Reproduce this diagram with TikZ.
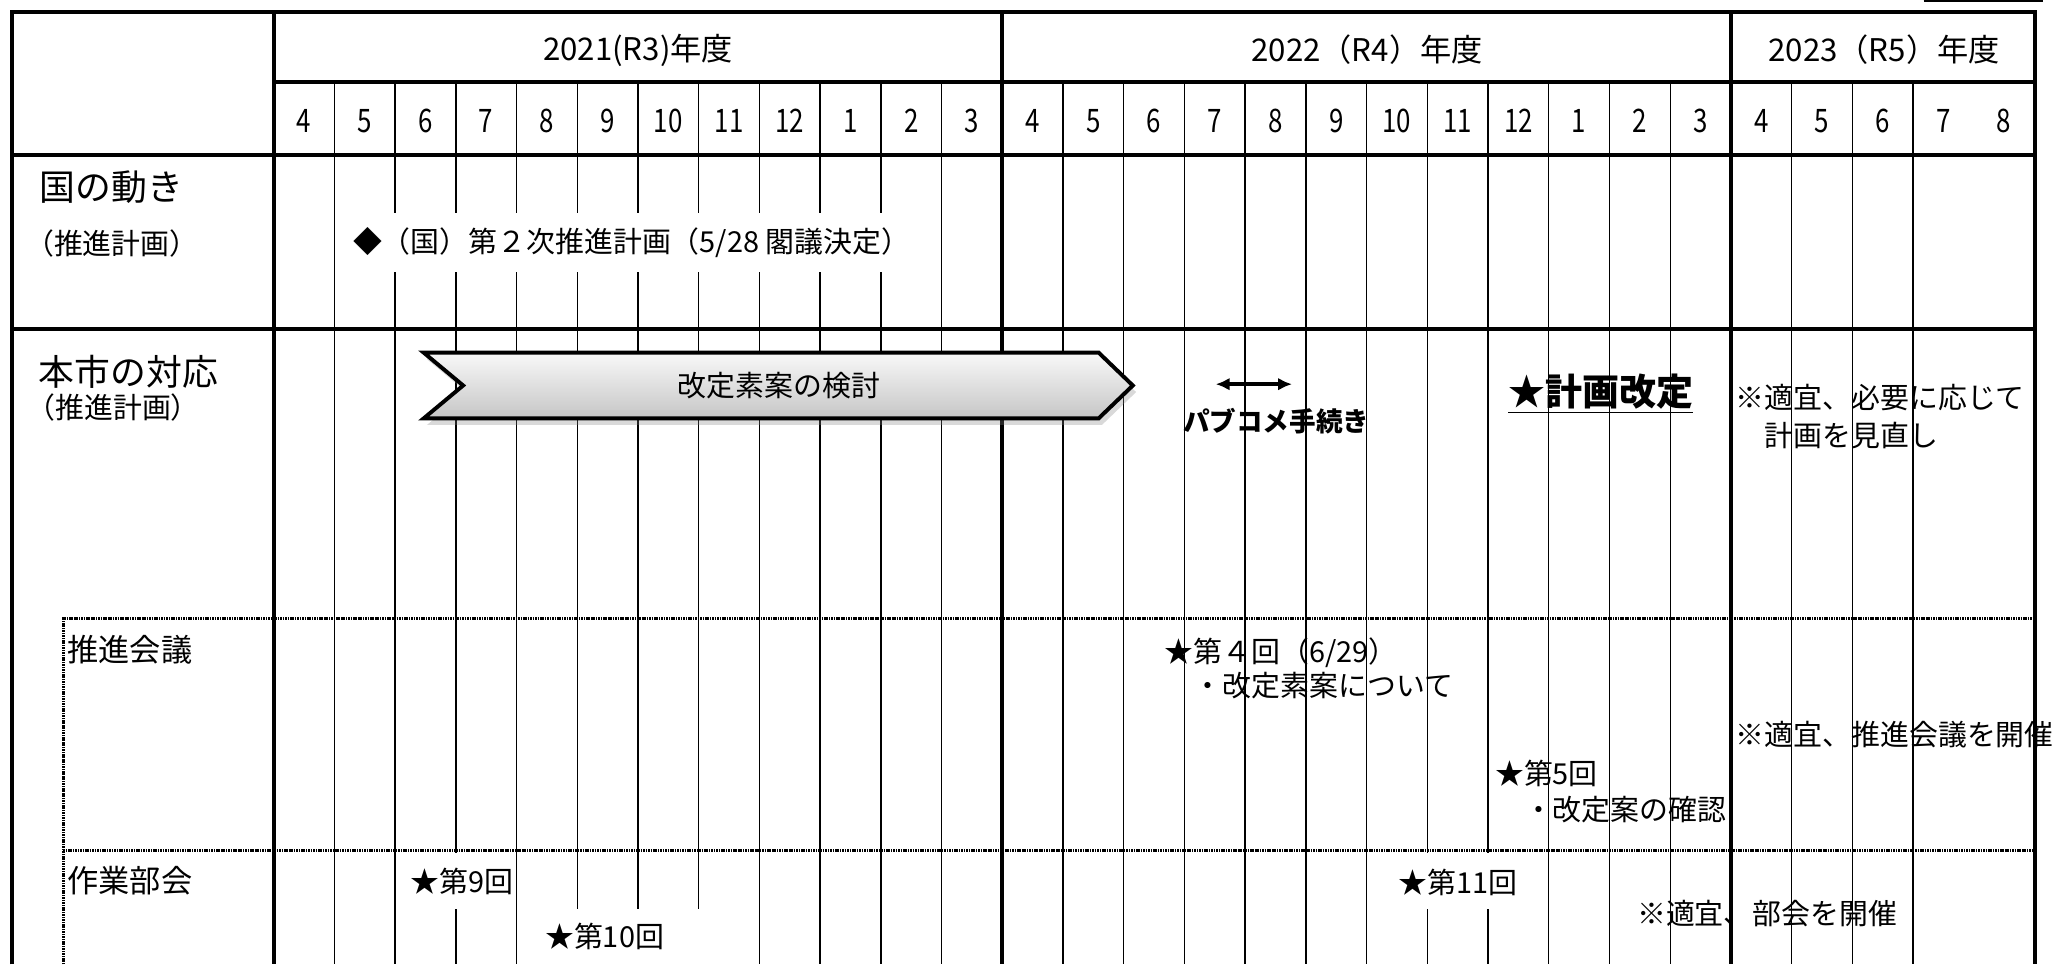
\documentclass[tikz,border=0pt]{standalone}
\usepackage{fontspec}
\setmainfont{Noto Sans CJK JP}
\newfontfamily\narrowfont[FakeStretch=0.8]{Noto Sans CJK JP}
\usetikzlibrary{arrows.meta,shadows}

\begin{document}
\begin{tikzpicture}[x=0.02cm, y=-0.02cm, >={Latex[length=6pt,width=5.5pt]}]
        \tikzstyle{every node}=[inner sep=0pt, font=\fontsize{12.5}{15}\selectfont]
        \tikzstyle{frameline}=[line width=1.7pt]
        \tikzstyle{monthline}=[line width=0.6pt]
        \tikzstyle{dotline}=[line width=1.3pt, dash pattern=on 0.7pt off 0.35pt]
        \tikzstyle{mask}=[fill=white]
        \tikzstyle{biglabel}=[font=\fontsize{15.5}{18}\selectfont]
        \tikzstyle{yearlabel}=[font=\fontsize{13.5}{16}\selectfont]
        \tikzstyle{monthlabel}=[font=\narrowfont\fontsize{14}{16}\selectfont]
        \tikzstyle{memo}=[anchor=west, align=left]
        \useasboundingbox (0,0) rectangle (1568,733);
        % month grid
        \foreach \i in {1,...,11,13,14,...,23,25,26,27}
            \draw[monthline] (208+46.15*\i,62) -- (208+46.15*\i,733);
        % white boxes behind some labels
        \fill[mask] (260,162) rectangle (706,207);
        \fill[mask] (306,648) rectangle (391,691);
        \fill[mask] (402,691) rectangle (562,734);
        \fill[mask] (1058,648) rectangle (1155,691);
        % dotted frame of the sub rows
        \draw[dotline] (48,733) -- (48,470) -- (1547,470);
        \draw[dotline] (48,646.5) -- (1547,646.5);
        % frame
        \draw[frameline] (9,733) -- (9,9) -- (1547,9) -- (1547,733);
        \draw[frameline] (208,62) -- (1547,62);
        \draw[frameline] (9,118) -- (1547,118);
        \draw[frameline] (9,250) -- (1547,250);
        \foreach \x in {208,761.8,1315.6}
            \draw[frameline] (\x,9) -- (\x,733);
        \draw[line width=0.8pt] (1462,1) -- (1553,1);
        % header
        \node (y21) at (485,38) [yearlabel] {2021(R3)年度};
        \node (y22) at (1039,38) [yearlabel] {2022（R4）年度};
        \node (y23) at (1432,38) [yearlabel] {2023（R5）年度};
        \foreach \m [count=\i from 0] in {4,5,6,7,8,9,10,11,12,1,2,3,4,5,6,7,8,9,10,11,12,1,2,3,4,5,6,7,8}
            \node (m\i) at (231.07+46.15*\i,92) [monthlabel] {\m};
        % row labels
        \node (kuniL) at (84.5,142) [biglabel] {国の動き};
        \node (keikaku1) at (85,185) {（推進計画）};
        \node (shishi) at (97.5,283) [biglabel] {本市の対応};
        \node (keikaku2) at (86,310) {（推進計画）};
        \node (kaigi) at (51,494) [memo, font=\fontsize{13.5}{16}\selectfont] {推進会議};
        \node (bukaiL) at (51,669.5) [memo, font=\fontsize{13.5}{16}\selectfont] {作業部会};
        % national plan
        \node (kuni) at (268,184) [memo] {◆（国）第２次推進計画（5/28 閣議決定）};
        % city plan
        \draw[line width=1.7pt, top color=gray!5, bottom color=gray!45,
              drop shadow={shadow xshift=0.05cm, shadow yshift=-0.1cm, opacity=0.3}]
            (322,268) -- (835,268) -- (861,293) -- (835,318) -- (322,318) -- (352,293) -- cycle;
        \node (kentou) at (592,293) {改定素案の検討};
        \coordinate (pcL) at (924,292);
        \coordinate (pcR) at (982,292);
        \draw[<->, line width=1.5pt] (pcL) -- (pcR);
        \node (pubcom) at (970,320) [font=\bfseries\fontsize{11.5}{14}\selectfont] {パブコメ手続き};
        \node (kaitei) at (1216.5,308) [anchor=base, font=\bfseries\fontsize{16}{19}\selectfont] {\underline{★計画改定}};
        \node (minaoshi) at (1319,316.5) [memo, font=\fontsize{12.5}{16.5}\selectfont] {※適宜、必要に応じて\\　計画を見直し};
        % meetings
        \node (kai4) at (885,508) [memo, font=\fontsize{12.5}{14.8}\selectfont] {★第４回（6/29）\\　・改定素案について};
        \node (kai5) at (1136,601.5) [memo, font=\fontsize{12.5}{15.4}\selectfont] {★第5回\\　・改定案の確認};
        \node (suishin) at (1319,558.5) [memo] {※適宜、推進会議を開催};
        % working group
        \node (kai9) at (351,670) {★第9回};
        \node (kai10) at (459.5,712) {★第10回};
        \node (kai11) at (1108,670.5) {★第11回};
        \node (bukai) at (1244,694) [memo] {※適宜、部会を開催};
\end{tikzpicture}
\end{document}
